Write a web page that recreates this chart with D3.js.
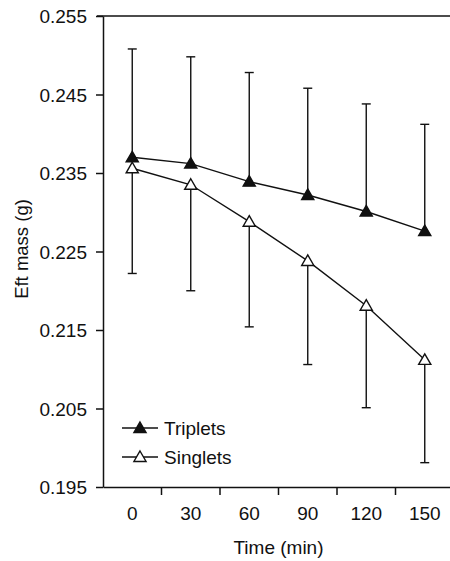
<!DOCTYPE html>
<html>
<head>
<meta charset="utf-8">
<script src="https://cdn.jsdelivr.net/npm/d3@7"></script>
<style>
  body { margin: 0; background: #fff; }
  text { font-family: "Liberation Sans", Arial, sans-serif; fill: #111; }
</style>
</head>
<body>
<div id="chart"></div>
<script>
// data
var times = [0, 30, 60, 90, 120, 150];
var tripletMean = [0.2370, 0.2362, 0.2339, 0.2322, 0.2301, 0.2276];
var tripletErr  = [0.0138, 0.0136, 0.0139, 0.0136, 0.0137, 0.0136];
var singletMean = [0.2356, 0.2335, 0.2288, 0.2238, 0.2181, 0.2112];
var singletErr  = [0.0134, 0.0135, 0.0134, 0.0132, 0.0130, 0.0131];
var yTicks = [0.195, 0.205, 0.215, 0.225, 0.235, 0.245, 0.255];

var svgWidth = 450, svgHeight = 561;
var plotLeft = 103, plotRight = 454, plotTop = 16, plotBottom = 487;

var svg = d3.select("#chart").append("svg")
  .attr("width", svgWidth)
  .attr("height", svgHeight);

var x = d3.scaleBand().domain(times).range([plotLeft, plotRight]).paddingInner(0).paddingOuter(0);
var y = d3.scaleLinear().domain([0.195, 0.255]).range([plotBottom, plotTop]);
var cx = function(t) { return x(t) + x.bandwidth() / 2; };

// top border
svg.append("line")
  .attr("x1", plotLeft - 6).attr("x2", svgWidth)
  .attr("y1", y(0.255)).attr("y2", y(0.255))
  .attr("stroke", "#111").attr("stroke-width", 1.5);

// y axis
var yAxis = d3.axisLeft(y).tickValues(yTicks).tickSize(7).tickSizeOuter(0)
  .tickFormat(d3.format(".3f"));
var gy = svg.append("g").attr("transform", "translate(" + plotLeft + ",0)").call(yAxis);
gy.selectAll("path, line").attr("stroke", "#111").attr("stroke-width", 1.5);
gy.selectAll("text").attr("font-size", 19).attr("x", -16).attr("dy", "0.35em");

// x axis: labels centered, ticks at band edges
var xAxis = d3.axisBottom(x).tickSize(0).tickPadding(20);
var gx = svg.append("g").attr("transform", "translate(0," + plotBottom + ")").call(xAxis);
gx.select("path").attr("stroke", "#111").attr("stroke-width", 1.5);
gx.selectAll("text").attr("font-size", 19);
gx.selectAll(".edge")
  .data(times.slice(1).concat(["end"]))
  .enter().append("line")
  .attr("class", "edge")
  .attr("x1", function(d, i) { return plotLeft + (i + 1) * x.step(); })
  .attr("x2", function(d, i) { return plotLeft + (i + 1) * x.step(); })
  .attr("y1", 0).attr("y2", 8)
  .attr("stroke", "#111").attr("stroke-width", 1.5);

// axis titles
svg.append("text")
  .attr("x", (plotLeft + plotRight) / 2).attr("y", 554)
  .attr("text-anchor", "middle").attr("font-size", 19)
  .text("Time (min)");

svg.append("text")
  .attr("transform", "translate(22,249) rotate(-90)")
  .attr("text-anchor", "middle").attr("dy", "0.35em").attr("font-size", 18.5)
  .text("Eft mass (g)");

var series = [
  { name: "Triplets", mean: tripletMean, err: tripletErr, dir: 1, fill: "#111" },
  { name: "Singlets", mean: singletMean, err: singletErr, dir: -1, fill: "#fff" }
];

var tri = d3.symbol().type(d3.symbolTriangle).size(64);
var line = d3.line()
  .x(function(d) { return cx(d.t); })
  .y(function(d) { return y(d.v); });

series.forEach(function(s) {
  var pts = times.map(function(t, i) {
    return { t: t, v: s.mean[i], end: s.mean[i] + s.dir * s.err[i] };
  });

  // error bars (one side only)
  var eb = svg.append("g").attr("stroke", "#111").attr("stroke-width", 1.4);
  eb.selectAll(".bar").data(pts).enter().append("line")
    .attr("x1", function(d) { return cx(d.t); })
    .attr("x2", function(d) { return cx(d.t); })
    .attr("y1", function(d) { return y(d.v); })
    .attr("y2", function(d) { return y(d.end); });
  eb.selectAll(".cap").data(pts).enter().append("line")
    .attr("x1", function(d) { return cx(d.t) - 4.5; })
    .attr("x2", function(d) { return cx(d.t) + 4.5; })
    .attr("y1", function(d) { return y(d.end); })
    .attr("y2", function(d) { return y(d.end); });

  s.pts = pts;
});

series.forEach(function(s) {
  svg.append("path").datum(s.pts)
    .attr("d", line)
    .attr("fill", "none").attr("stroke", "#111").attr("stroke-width", 1.4);
});

series.forEach(function(s) {
  svg.selectAll(null).data(s.pts).enter().append("path")
    .attr("d", tri)
    .attr("transform", function(d) { return "translate(" + cx(d.t) + "," + (y(d.v) + 1) + ")"; })
    .attr("fill", s.fill).attr("stroke", "#111").attr("stroke-width", 1.4);
});

// legend
var legend = svg.append("g").attr("transform", "translate(122,428)");
series.forEach(function(s, i) {
  var g = legend.append("g").attr("transform", "translate(0," + (i * 29) + ")");
  g.append("line").attr("x1", 0).attr("x2", 36).attr("y1", 0).attr("y2", 0)
    .attr("stroke", "#111").attr("stroke-width", 1.4);
  g.append("path").attr("d", tri).attr("transform", "translate(18,1)")
    .attr("fill", s.fill).attr("stroke", "#111").attr("stroke-width", 1.4);
  g.append("text").attr("x", 42).attr("y", 0).attr("dy", "0.35em")
    .attr("font-size", 19).text(s.name);
});
</script>
</body>
</html>
